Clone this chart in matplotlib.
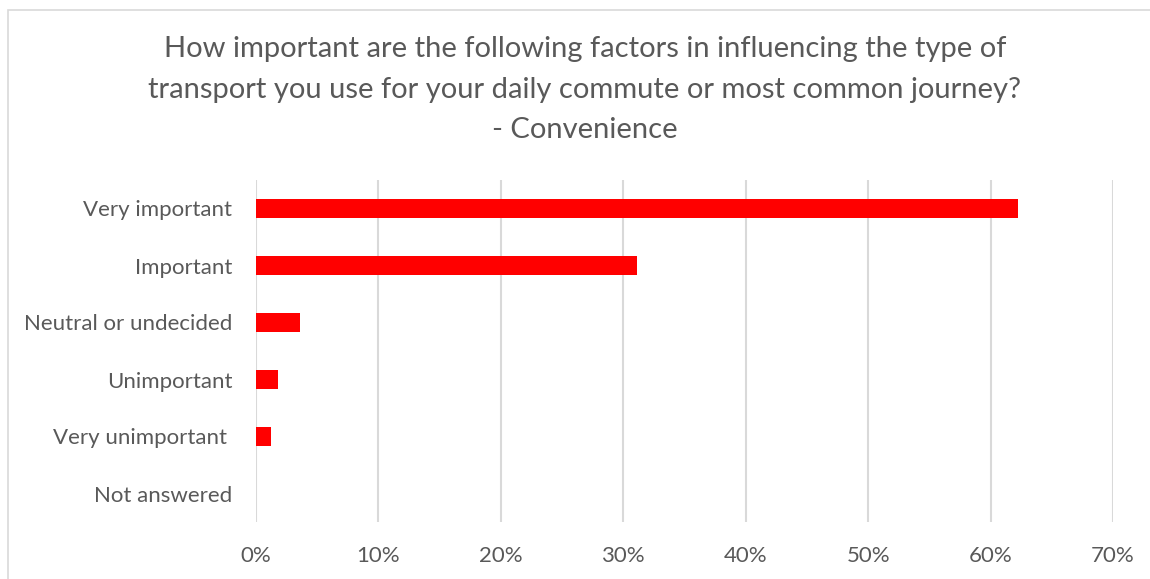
import matplotlib
matplotlib.use("Agg")
import matplotlib.pyplot as plt
from matplotlib.patches import Rectangle
from matplotlib.ticker import FuncFormatter, MultipleLocator

categories = ["Very important", "Important", "Neutral or undecided",
              "Unimportant", "Very unimportant ", "Not answered"]
values = [62.2, 31.1, 3.6, 1.8, 1.2, 0.0]
title = ("How important are the following factors in influencing the type of\n"
         "transport you use for your daily commute or most common journey?\n"
         "- Convenience")

text_color = "#595959"
grid_color = "#d9d9d9"
bar_color = "#ff0000"
font = ["Lato", "DejaVu Sans"]

fig = plt.figure(figsize=(11.5, 5.79), dpi=100)
fig.patch.set_facecolor("white")

# chart frame
fig.patches.append(Rectangle((8 / 1150, -0.1), 1.2, (579 - 10) / 579 + 0.1,
                             transform=fig.transFigure, fill=False,
                             edgecolor=grid_color, linewidth=1.2))

ax = fig.add_axes([256 / 1150, 57 / 579, (1113 - 256) / 1150, (522 - 180) / 579])
y = list(range(len(categories)))
ax.barh(y, values, height=0.35, color=bar_color, zorder=3)

ax.set_xlim(0, 70)
ax.set_ylim(len(categories) - 0.5, -0.5)
ax.xaxis.set_major_locator(MultipleLocator(10))
ax.xaxis.set_major_formatter(FuncFormatter(lambda v, _: f"{v:.0f}%"))
ax.grid(axis="x", color=grid_color, linewidth=1.5, zorder=0)
ax.set_axisbelow(True)
for s in ax.spines.values():
    s.set_visible(False)
ax.set_yticks(y)
ax.set_yticklabels(categories)
ax.tick_params(axis="both", length=0, colors=text_color, labelsize=16)
ax.tick_params(axis="y", pad=17)
ax.tick_params(axis="x", pad=17)
for lab in ax.get_xticklabels() + ax.get_yticklabels():
    lab.set_family(font)

fig.text(585 / 1150, 1 - 36 / 579, title, ha="center", va="top",
         fontsize=21, color=text_color, family=font, linespacing=1.7)

fig.savefig("out.png", dpi=100)
